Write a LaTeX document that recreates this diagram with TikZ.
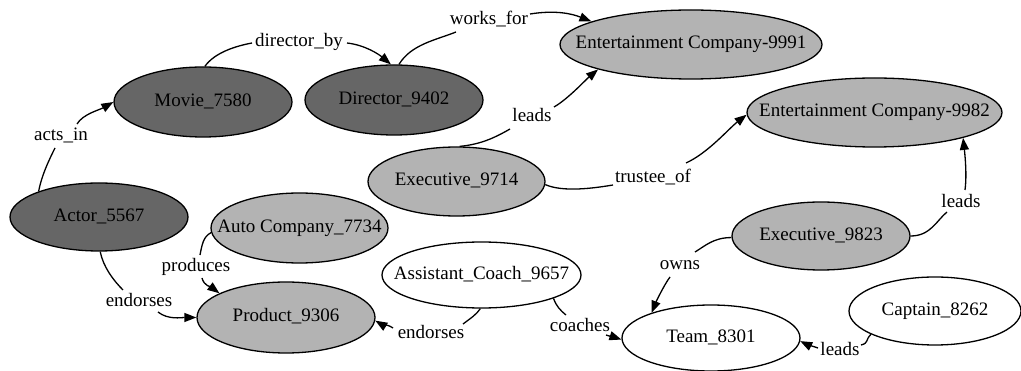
\documentclass[tikz,border=0pt]{standalone}
\usepackage{fontspec}
\setmainfont{Liberation Serif}
\usetikzlibrary{shapes.geometric,arrows.meta}
\definecolor{nodedark}{HTML}{666666}
\definecolor{nodelight}{HTML}{B3B3B3}
\tikzset{
  txt/.style={font=\fontsize{19}{22}\selectfont, text height=13pt, text depth=4pt},
  ent/.style={txt, ellipse, draw, line width=1.3pt, inner ysep=0pt, inner xsep=-60pt},
  darkent/.style={ent, fill=nodedark},
  lightent/.style={ent, fill=nodelight},
  plainent/.style={ent, fill=white},
  lbl/.style={txt, inner sep=1pt},
  link/.style={line width=1.3pt},
  linkarr/.style={link, -{Triangle[length=12pt,width=9pt]}}
}
\begin{document}
\begin{tikzpicture}[x=1pt,y=-1pt]
\useasboundingbox (0,0) rectangle (1021,371);

% entities
\node[darkent, minimum width=178pt, minimum height=70pt] (movie) at (203,102) {Movie\_7580};
\node[darkent, minimum width=178pt, minimum height=70pt] (director) at (394,100) {Director\_9402};
\node[darkent, minimum width=178pt, minimum height=68pt] (actor) at (99,217) {Actor\_5567};
\node[lightent, minimum width=262pt, minimum height=69pt] (ec1) at (691,44.5) {Entertainment Company-9991};
\node[lightent, minimum width=255pt, minimum height=69pt] (ec2) at (874.5,112.5) {Entertainment Company-9982};
\node[lightent, minimum width=177pt, minimum height=69pt] (exec1) at (456.5,181.5) {Executive\_9714};
\node[lightent, minimum width=178pt, minimum height=68pt] (exec2) at (821,236) {Executive\_9823};
\node[lightent, minimum width=177pt, minimum height=70pt] (auto) at (299.5,228) {Auto Company\_7734};
\node[lightent, minimum width=178pt, minimum height=71pt] (product) at (286,317.5) {Product\_9306};
\node[plainent, minimum width=199pt, minimum height=66pt] (ac) at (481.5,275) {Assistant\_Coach\_9657};
\node[plainent, minimum width=178pt, minimum height=66pt] (team) at (711,338) {Team\_8301};
\node[plainent, minimum width=172pt, minimum height=68pt] (captain) at (935,311) {Captain\_8262};

% relation labels
\node[lbl] (l1) at (61,136) {acts\_in};
\node[lbl] (l2) at (299,42) {director\_by};
\node[lbl] (l3) at (489,20) {works\_for};
\node[lbl] (l4) at (532,117) {leads};
\node[lbl] (l5) at (653,178) {trustee\_of};
\node[lbl] (l6) at (961,203) {leads};
\node[lbl] (l7) at (680,265) {owns};
\node[lbl] (l8) at (139,302) {endorses};
\node[lbl] (l9) at (196,267) {produces};
\node[lbl] (l10) at (431,334) {endorses};
\node[lbl] (l11) at (580,327) {coaches};
\node[lbl] (l12) at (840,351) {leads};

% acts_in
\draw[link] (actor.157) .. controls +(3,-16) and +(-6,12) .. ([shift={(-6,12)}]l1.center);
\draw[linkarr] ([shift={(16,-12)}]l1.center) .. controls +(6,-10) and +(-14,8) .. (movie.180);
% director_by
\draw[link] (movie.87) .. controls +(10,-14) and +(-16,3) .. ([shift={(-47,1)}]l2.center);
\draw[linkarr] ([shift={(48,1)}]l2.center) .. controls +(18,2) and +(-12,-10) .. (director.95);
% works_for
\draw[link] (director.82) .. controls +(12,-20) and +(-20,8) .. ([shift={(-33,12)}]l3.center);
\draw[linkarr] ([shift={(41,-6)}]l3.center) .. controls +(25,-4) and +(-20,-8) .. (ec1.167);
% leads (exec1 -> ec1)
\draw[link] (exec1.85) .. controls +(22,-2) and +(-14,8) .. ([shift={(-22,12)}]l4.center);
\draw[linkarr] ([shift={(22,-10)}]l4.center) .. controls +(14,-8) and +(-12,10) .. (ec1.195);
% trustee_of
\draw[link] (exec1.358) .. controls +(18,8) and +(-18,3) .. ([shift={(-40,7)}]l5.center);
\draw[linkarr] ([shift={(33,-15)}]l5.center) .. controls +(22,-10) and +(-18,14) .. (ec2.181);
% leads (exec2 -> ec2)
\draw[link] (exec2.0) .. controls +(20,0) and +(-10,8) .. ([shift={(-14,9)}]l6.center);
\draw[linkarr] ([shift={(4,-13)}]l6.center) .. controls +(2,-15) and +(2,18) .. (ec2.344);
% owns
\draw[link] (exec2.181) .. controls +(-18,0) and +(10,-6) .. ([shift={(15,-13)}]l7.center);
\draw[linkarr] ([shift={(-10,12)}]l7.center) .. controls +(-6,8) and +(4,-10) .. (team.157);
% endorses (actor -> product)
\draw[link] (actor.272) .. controls +(3,15) and +(-10,-10) .. ([shift={(-16,-12)}]l8.center);
\draw[linkarr] ([shift={(19,10)}]l8.center) .. controls +(10,8) and +(-15,0) .. (product.180);
% produces
\draw[link] (auto.183) .. controls +(-8,4) and +(2,-10) .. ([shift={(4,-12)}]l9.center);
\draw[linkarr] ([shift={(6,11)}]l9.center) .. controls +(2,8) and +(-8,-6) .. (product.160);
% endorses (assistant coach -> product)
\draw[link] (ac.268) .. controls +(-4,6) and +(8,-6) .. ([shift={(32,-10)}]l10.center);
\draw[linkarr] ([shift={(-38,-6)}]l10.center) .. controls +(-6,-4) and +(5,3) .. (product.358);
% coaches
\draw[link] (ac.342) .. controls +(3,8) and +(-6,-5) .. ([shift={(-14,-12)}]l11.center);
\draw[linkarr] ([shift={(26,8)}]l11.center) .. controls +(6,2) and +(-6,-2) .. (team.181);
% leads (captain -> team)
\draw[link] (captain.200) .. controls +(-6,6) and +(8,-2) .. ([shift={(21,-6)}]l12.center);
\draw[linkarr] ([shift={(-22,-3)}]l12.center) .. controls +(-6,-2) and +(6,3) .. (team.358);
\end{tikzpicture}
\end{document}
